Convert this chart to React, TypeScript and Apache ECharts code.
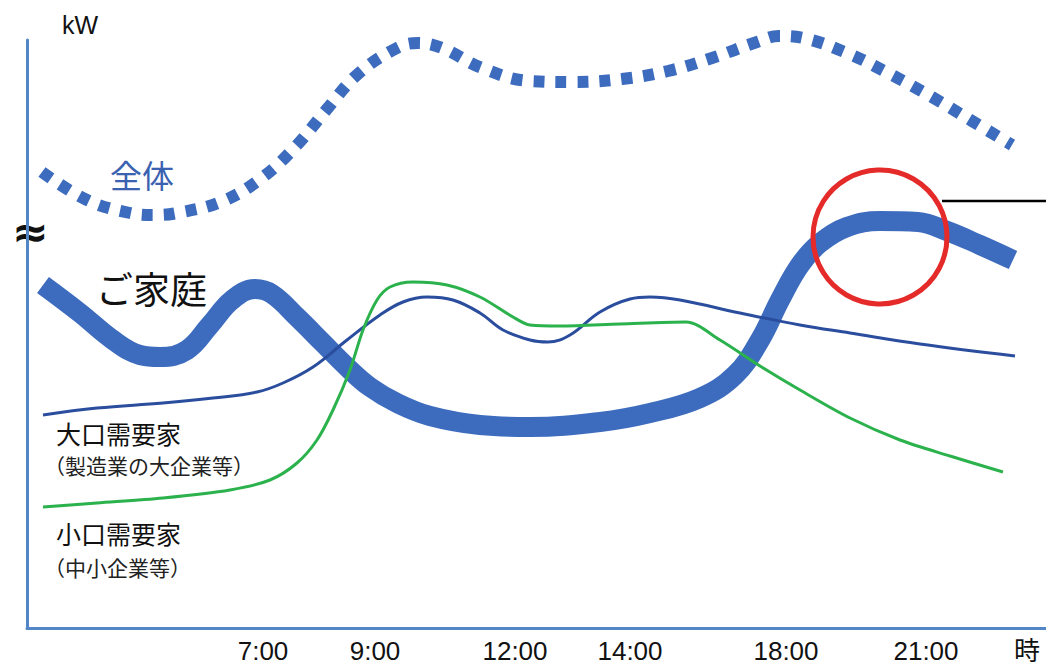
import React, { useEffect, useRef } from "react";
import * as echarts from "echarts";

// x: horizontal position along the (schematic) time axis, y: relative demand (kW)
const totalDemand: [number, number][] = [
  [15, 456], [60, 428], [103, 415], [127, 413], [150, 415], [196, 427], [236, 451],
  [270, 483], [300, 519], [331, 554], [370, 580], [391, 585], [415, 580], [455, 560],
  [503, 547], [548, 546], [595, 549], [641, 557], [685, 570], [730, 586], [752, 592],
  [776, 590], [820, 575], [863, 554], [905, 531], [945, 507], [985, 483],
];

const household: [number, number][] = [
  [16, 343], [53, 315], [86, 288], [113, 273], [133, 271], [160, 278], [183, 303],
  [205, 328], [228, 339], [245, 334], [270, 311], [296, 285], [320, 261], [343, 241],
  [370, 225], [403, 212], [453, 203], [503, 201], [573, 206], [623, 215], [673, 230],
  [708, 253], [733, 288], [753, 328], [773, 363], [793, 385], [820, 401], [853, 407],
  [891, 406], [920, 397], [953, 383], [986, 368],
];

const largeUsers: [number, number][] = [
  [16, 213], [70, 220], [136, 225], [186, 230], [230, 236], [256, 245], [286, 261],
  [320, 288], [353, 313], [376, 326], [400, 331], [426, 328], [453, 315], [476, 298],
  [503, 288], [521, 286], [543, 293], [573, 316], [603, 329], [623, 331], [653, 328],
  [713, 315], [773, 303], [823, 295], [893, 284], [988, 272],
];

const smallUsers: [number, number][] = [
  [16, 121], [70, 125], [136, 130], [203, 138], [243, 148], [270, 165], [290, 188],
  [306, 218], [323, 258], [336, 298], [350, 328], [363, 341], [386, 346], [420, 343],
  [453, 331], [486, 311], [503, 303], [533, 302], [593, 304], [659, 306], [693, 288],
  [733, 262], [773, 238], [823, 210], [873, 188], [923, 172], [976, 156],
];

const tickPositions = [236, 348, 488, 603, 759, 899, 1000];
const tickLabels = ["7:00", "9:00", "12:00", "14:00", "18:00", "21:00", "時"];

const BLUE = "#3d6cbe";
const DARK_BLUE = "#2a4d9e";
const GREEN = "#2bb24c";
const AXIS = "#5286c6";
const CJK = "'Noto Sans CJK JP', 'Noto Sans', sans-serif";

export default function App() {
  const ref = useRef<HTMLDivElement>(null);
  useEffect(() => {
    if (!ref.current) return;
    const chart = echarts.init(ref.current, null, { renderer: "svg" });
    chart.setOption({
      animation: false,
      backgroundColor: "#ffffff",
      grid: { left: 27, right: 0, top: 40, bottom: 40 },
      xAxis: {
        type: "value",
        min: 0,
        max: 1019,
        splitLine: { show: false },
        axisLine: { lineStyle: { color: AXIS, width: 3 } },
        axisTick: { show: false },
        axisLabel: {
          customValues: tickPositions,
          formatter: (v: number) => {
            const i = tickPositions.indexOf(v);
            return i >= 0 ? tickLabels[i] : "";
          },
          color: "#111",
          fontSize: 26,
          fontFamily: "'Liberation Sans', Arial, 'Noto Sans CJK JP', sans-serif",
          margin: 10,
        },
      },
      yAxis: {
        type: "value",
        min: 0,
        max: 588,
        splitLine: { show: false },
        axisLine: { show: true, lineStyle: { color: AXIS, width: 3 } },
        axisTick: { show: false },
        axisLabel: { show: false },
      },
      series: [
        {
          name: "全体",
          type: "line",
          data: totalDemand,
          smooth: 0.4,
          symbol: "none",
          clip: false,
          lineStyle: { color: BLUE, width: 12, type: [11, 11], cap: "butt" },
        },
        {
          name: "ご家庭",
          type: "line",
          data: household,
          smooth: 0.4,
          symbol: "none",
          clip: false,
          lineStyle: { color: BLUE, width: 20, cap: "butt" },
        },
        {
          name: "大口需要家",
          type: "line",
          data: largeUsers,
          smooth: 0.4,
          symbol: "none",
          clip: false,
          lineStyle: { color: DARK_BLUE, width: 3 },
        },
        {
          name: "小口需要家",
          type: "line",
          data: smallUsers,
          smooth: 0.3,
          symbol: "none",
          clip: false,
          lineStyle: { color: GREEN, width: 3 },
        },
      ],
      graphic: [
        {
          type: "text",
          left: 62,
          top: 12,
          style: { text: "kW", fontSize: 25, fill: "#111", fontFamily: "'Liberation Sans', Arial, sans-serif" },
        },
        {
          type: "text",
          x: 12,
          y: 231,
          style: {
            text: "≈",
            fontSize: 44,
            fontWeight: "bold",
            fill: "#111",
            fontFamily: "'DejaVu Sans', sans-serif",
            verticalAlign: "middle",
          },
        },
        {
          type: "text",
          x: 110,
          y: 174,
          style: { text: "全体", fontSize: 32, lineHeight: 32, fill: "#3a62b0", fontFamily: CJK, verticalAlign: "middle" },
        },
        {
          type: "text",
          x: 96,
          y: 288,
          style: { text: "ご家庭", fontSize: 37, lineHeight: 37, fill: "#111", fontFamily: CJK, verticalAlign: "middle" },
        },
        {
          type: "text",
          x: 56,
          y: 433,
          style: { text: "大口需要家", fontSize: 25, lineHeight: 25, fill: "#111", fontFamily: CJK, verticalAlign: "middle" },
        },
        {
          type: "text",
          x: 44,
          y: 465,
          style: { text: "（製造業の大企業等）", fontSize: 21, lineHeight: 21, fill: "#222", fontFamily: CJK, verticalAlign: "middle" },
        },
        {
          type: "text",
          x: 56,
          y: 533,
          style: { text: "小口需要家", fontSize: 25, lineHeight: 25, fill: "#111", fontFamily: CJK, verticalAlign: "middle" },
        },
        {
          type: "text",
          x: 44,
          y: 567,
          style: { text: "（中小企業等）", fontSize: 21, lineHeight: 21, fill: "#222", fontFamily: CJK, verticalAlign: "middle" },
        },
        {
          type: "circle",
          shape: { cx: 880, cy: 237, r: 67 },
          style: { fill: "none", stroke: "#e52a2a", lineWidth: 5 },
          z: 10,
        },
        {
          type: "line",
          shape: { x1: 942, y1: 201, x2: 1046, y2: 201 },
          style: { stroke: "#000", lineWidth: 2.5 },
          z: 10,
        },
      ],
    });
    return () => chart.dispose();
  }, []);
  return (
    <div
      ref={ref}
      style={{ position: "absolute", left: 0, top: 0, width: 1046, height: 668 }}
    />
  );
}
